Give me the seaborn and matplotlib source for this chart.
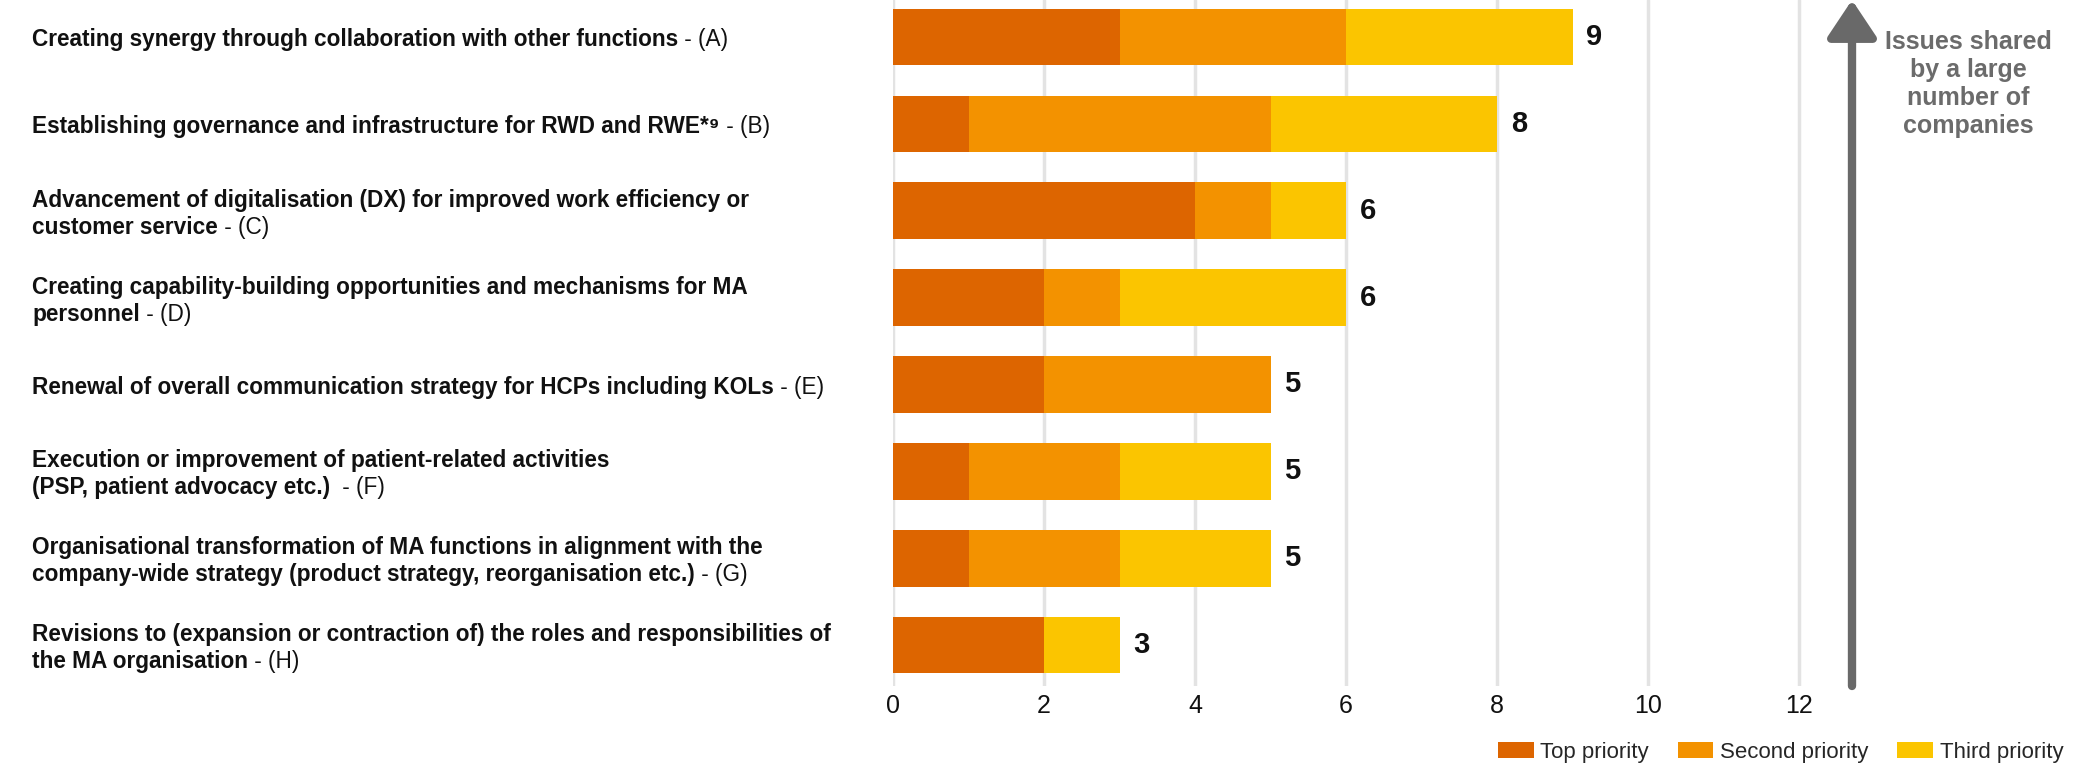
import matplotlib
matplotlib.use("Agg")
import matplotlib.pyplot as plt
import seaborn as sns
import pandas as pd
import numpy as np
from matplotlib.patches import Patch, FancyArrowPatch

# ---- data ----
codes = ["A", "B", "C", "D", "E", "F", "G", "H"]
label_main = [
    "Creating synergy through collaboration with other functions",
    "Establishing governance and infrastructure for RWD and RWE*\u2079",
    "Advancement of digitalisation (DX) for improved work efficiency or\ncustomer service",
    "Creating capability-building opportunities and mechanisms for MA\npersonnel",
    "Renewal of overall communication strategy for HCPs including KOLs",
    "Execution or improvement of patient-related activities\n(PSP, patient advocacy etc.) ",
    "Organisational transformation of MA functions in alignment with the\ncompany-wide strategy (product strategy, reorganisation etc.)",
    "Revisions to (expansion or contraction of) the roles and responsibilities of\nthe MA organisation",
]
top_priority = [3, 1, 4, 2, 2, 1, 1, 2]
second_priority = [3, 4, 1, 1, 3, 2, 2, 0]
third_priority = [3, 3, 1, 3, 0, 2, 2, 1]
series_names = ["Top priority", "Second priority", "Third priority"]
colors = ["#DD6500", "#F39200", "#FBC500"]
xticks = [0, 2, 4, 6, 8, 10, 12]
arrow_text = "Issues shared\nby a large\nnumber of\ncompanies"

df = pd.DataFrame({"code": codes, "top": top_priority,
                   "second": second_priority, "third": third_priority})
df["c1"] = df["top"]
df["c2"] = df["top"] + df["second"]
df["c3"] = df["c2"] + df["third"]

sns.set_theme(style="white")
plt.rcParams["font.family"] = ["Liberation Sans", "DejaVu Sans"]

W, H = 2085, 764
fig = plt.figure(figsize=(W / 100, H / 100), dpi=100)
ax_left = 893 / W
ax_bottom = 1 - 686 / H
ax_right = 1852 / W
ax = fig.add_axes([ax_left, ax_bottom, ax_right - ax_left, 1 - ax_bottom])

for col, c in zip(["c3", "c2", "c1"], colors[::-1]):
    sns.barplot(data=df, x=col, y="code", color=c, orient="h", width=0.65,
                saturation=1, ax=ax, zorder=3, linewidth=0, edgecolor="none")

ax.set_xlim(0, 12.7)
ax.set_ylim(7.47, -0.425)
ax.set_xticks(xticks)
ax.set_xticklabels([str(t) for t in xticks], fontsize=18, color="#111111")
ax.tick_params(axis="x", length=0, pad=6)
ax.set_yticks([])
ax.set_xlabel("")
ax.set_ylabel("")
for s in ax.spines.values():
    s.set_visible(False)
ax.grid(axis="x", color="#e3e3e3", linewidth=2.5, zorder=0)
ax.set_axisbelow(True)

# totals
for i, tot in enumerate(df["c3"]):
    ax.annotate(str(tot), xy=(tot, i), xytext=(10, 0), textcoords="offset points",
                va="center", ha="left", fontsize=21, fontweight="bold", color="#111111")

# category labels (bold part + regular suffix)
fig.canvas.draw()
LFS = 16.3
for i, (lab, code) in enumerate(zip(label_main, codes)):
    y_disp = ax.transData.transform((0, i))[1]
    yf = (y_disp - 3) / H
    lines = lab.split("\n")
    n = len(lines)
    line_h = 27 / H
    last = None
    for k, ln in enumerate(lines):
        yy = yf + ((n - 1) / 2 - k) * line_h
        last = fig.text(32 / W, yy, ln, ha="left", va="center", fontsize=LFS,
                        fontweight="bold", color="#111111")
    ax.annotate(" - (" + code + ")", xy=(1, 0), xycoords=last, ha="left", va="bottom",
                fontsize=LFS, color="#111111", annotation_clip=False)

# arrow
arr = FancyArrowPatch((1852 / W, 1 - 686 / H), (1852 / W, 1.0), transform=fig.transFigure,
                      arrowstyle="-|>,head_length=1.5,head_width=1.0", mutation_scale=15,
                      linewidth=6, color="#696969", shrinkA=0, shrinkB=0)
fig.patches.append(arr)
fig.text(1968 / W, 1 - 84 / H, arrow_text, ha="center", va="center", fontsize=18,
         fontweight="bold", color="#6b6b6b", linespacing=1.2)

# legend
handles = [Patch(facecolor=c, edgecolor="none") for c in colors]
fig.legend(handles, series_names, loc="lower right", bbox_to_anchor=(0.997, -0.019), ncol=3,
           frameon=False, fontsize=16, handlelength=1.6, handleheight=0.75,
           handletextpad=0.3, columnspacing=1.3, borderaxespad=0.3)

fig.savefig("out.png", dpi=100)
